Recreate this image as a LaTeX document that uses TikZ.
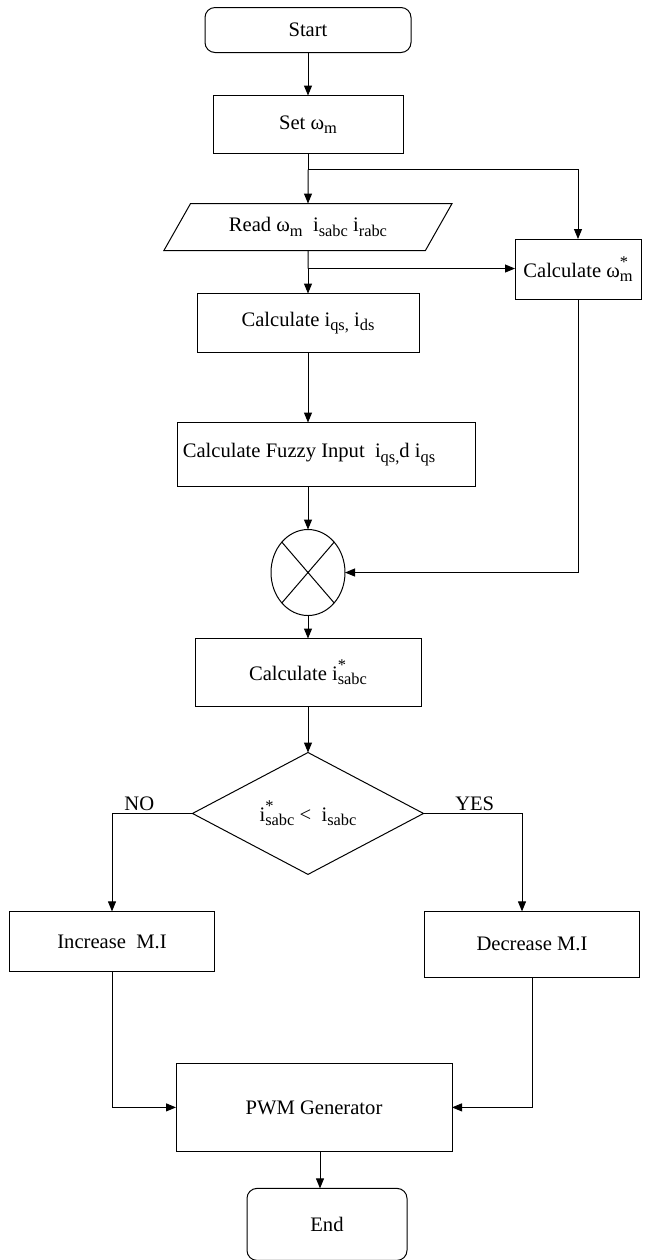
\documentclass[tikz,border=0pt]{standalone}
\usepackage{fontspec}
\setmainfont{Liberation Serif}
\usetikzlibrary{arrows.meta,positioning,shapes.geometric}

\newcommand{\lowsub}[1]{\raisebox{-0.45ex}{\fontsize{8.2}{9}\selectfont #1}}
\newcommand{\supsub}[2]{\rlap{\raisebox{1.05ex}{\fontsize{8.2}{9}\selectfont #1}}\lowsub{#2}}

\tikzset{
  procbox/.style={draw, rectangle, inner sep=1pt, outer sep=0pt, align=center},
  termbox/.style={draw, rectangle, rounded corners=5pt, inner sep=1pt, outer sep=0pt, align=center},
  iobox/.style={draw, trapezium, trapezium left angle=51, trapezium right angle=129,
    trapezium stretches=true, inner sep=1pt, outer sep=0pt},
  decbox/.style={draw, diamond, inner sep=0pt, outer sep=0pt},
  sumnode/.style={draw, ellipse, inner sep=0pt, outer sep=0pt, minimum width=37pt, minimum height=43pt},
  flow/.style={-{Triangle[length=5pt,width=4pt]}},
  lbl/.style={inner sep=1pt}
}

\begin{document}
\begin{tikzpicture}[line width=0.5pt, font=\fontsize{10.3}{12}\selectfont]
    \useasboundingbox (0,0) rectangle (325pt,-630pt);

    \node[termbox, minimum width=103pt, minimum height=22.5pt] (start) at (154pt,-15pt) {Start};
    \node[procbox, minimum width=95pt, minimum height=29pt, below=21.5pt of start] (setw)
      {Set ω\lowsub{m}};
    \node[iobox, minimum width=145pt, minimum height=23.5pt, below=25pt of setw] (read)
      {Read ω\lowsub{m}~ i\lowsub{sabc} i\lowsub{rabc}};
    \node[procbox, minimum width=111pt, minimum height=29.5pt, below=21.5pt of read] (calci)
      {Calculate i\lowsub{qs,} i\lowsub{ds}};
    \node[procbox, minimum width=149pt, minimum height=32pt, below=35pt of calci, xshift=9pt] (fuzzy)
      {Calculate Fuzzy Input~ i\lowsub{qs,}d i\lowsub{qs}\hspace*{17pt}};
    \node[sumnode, below=21.5pt of fuzzy, xshift=-9pt] (mult) {};
    \node[procbox, minimum width=113pt, minimum height=34pt, below=11.5pt of mult] (calcis)
      {Calculate i\supsub{*}{sabc}};
    \node[decbox, minimum width=115.5pt, minimum height=59pt, below=23pt of calcis] (dec)
      {i\supsub{*}{sabc} <~ i\lowsub{sabc}};
    \node[procbox, minimum width=102.5pt, minimum height=30pt, below=18.5pt of dec, xshift=-98pt] (inc)
      {Increase~ M.I};
    \node[procbox, minimum width=107.5pt, minimum height=33pt, below=18.5pt of dec, xshift=112pt] (decr)
      {Decrease M.I};
    \node[procbox, minimum width=138pt, minimum height=44pt, below=94.5pt of dec, xshift=3pt] (pwm)
      {PWM Generator};
    \node[termbox, minimum width=80pt, minimum height=36pt, below=18.5pt of pwm, xshift=6.5pt] (end)
      {End};
    \node[procbox, minimum width=63pt, minimum height=30pt] (calcw) at (289pt,-134.5pt)
      {Calculate ω\supsub{*}{m}};

    % cross in the mixer
    \draw (mult.north west) -- (mult.south east) (mult.north east) -- (mult.south west);

    \coordinate[below=8pt of setw.south] (j1);
    \coordinate[below=9pt of read.south] (j2);

    \draw[flow] (start) -- (setw);
    \draw (setw) -- (j1);
    \draw[flow] (j1) -- (read);
    \draw[flow] (j1) -| (calcw);
    \draw (read) -- (j2);
    \draw[flow] (j2) -- (calci);
    \draw[flow] (j2) -- (j2 -| calcw.west);
    \draw[flow] (calci) -- (calci |- fuzzy.north);
    \draw[flow] (fuzzy.south -| mult) -- (mult);
    \draw[flow] (calcw) |- (mult);
    \draw[flow] (mult) -- (calcis);
    \draw[flow] (calcis) -- (dec);
    \draw[flow] (dec) -| node[lbl, pos=0.33, above] {NO} (inc);
    \draw[flow] (dec) -| node[lbl, pos=0.26, above] {YES} ([xshift=-5pt]decr.north);
    \draw[flow] (inc) |- (pwm);
    \draw[flow] (decr) |- (pwm);
    \draw[flow] ([xshift=3pt]pwm.south) -- ([xshift=3pt]pwm.south |- end.north);
  \end{tikzpicture}
\end{document}
